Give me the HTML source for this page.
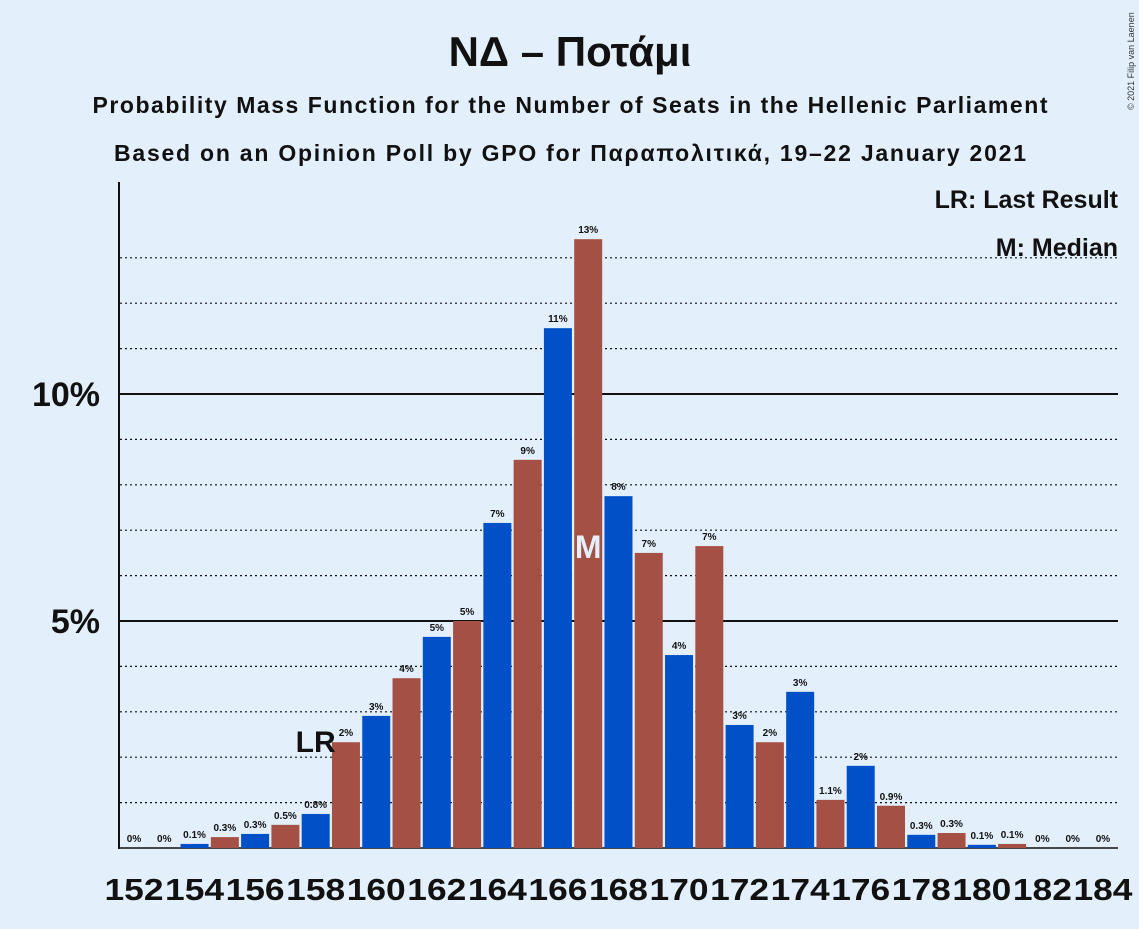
<!DOCTYPE html>
<html><head><meta charset="utf-8"><style>
body{margin:0;background:#e3f0fc;font-family:"Liberation Sans","DejaVu Sans",sans-serif;}
</style></head><body>
<svg width="1139" height="924" xmlns="http://www.w3.org/2000/svg">
<rect width="1139" height="924" fill="#e3f0fc"/>
<text x="570" y="66" text-anchor="middle" font-size="42" font-weight="bold" fill="#111">ΝΔ – Ποτάμι</text>
<text x="570" y="113" text-anchor="middle" font-size="23" font-weight="bold" fill="#111" textLength="955">Probability Mass Function for the Number of Seats in the Hellenic Parliament</text>
<text x="570" y="161" text-anchor="middle" font-size="23" font-weight="bold" fill="#111" textLength="912">Based on an Opinion Poll by GPO for Παραπολιτικά, 19–22 January 2021</text>
<text x="1134" y="110" font-size="9" fill="#333" transform="rotate(-90 1134 110)">© 2021 Filip van Laenen</text>
<g id="grid"></g>
<g id="bars"></g>
<g id="labels"></g>
<line x1="119" y1="182" x2="119" y2="849" stroke="#111" stroke-width="2"/>
<text x="1118" y="208" text-anchor="end" font-size="25" font-weight="bold" fill="#111">LR: Last Result</text>
<text x="1118" y="256" text-anchor="end" font-size="25" font-weight="bold" fill="#111">M: Median</text>
</svg>
<script>
const seats=[152,153,154,155,156,157,158,159,160,161,162,163,164,165,166,167,168,169,170,171,172,173,174,175,176,177,178,179,180,181,182,183,184];
const probs=[0,0,0.09,0.24,0.31,0.51,0.75,2.33,2.91,3.74,4.65,5.0,7.16,8.55,11.45,13.41,7.75,6.5,4.25,6.65,2.71,2.33,3.44,1.06,1.81,0.93,0.29,0.33,0.07,0.09,0,0,0];
const valueLabels=["0%","0%","0.1%","0.3%","0.3%","0.5%","0.8%","2%","3%","4%","5%","5%","7%","9%","11%","13%","8%","7%","4%","7%","3%","2%","3%","1.1%","2%","0.9%","0.3%","0.3%","0.1%","0.1%","0%","0%","0%"];
const yTicks=[5,10];
const lastResult=158, median=167;
const NS="http://www.w3.org/2000/svg";
const x=s=>134+(s-152)*30.28;
const y=v=>848-v*45.4;
function mk(tag,attrs,parent){const e=document.createElementNS(NS,tag);for(const k in attrs)e.setAttribute(k,attrs[k]);document.getElementById(parent).appendChild(e);return e;}
for(let p=1;p<=13;p++){
 const solid=yTicks.includes(p);
 const l=mk('line',{x1:120,x2:1118,y1:y(p),y2:y(p),stroke:'#111','stroke-width':solid?2:1.2,'stroke-dasharray':solid?'none':'2,3'},'grid');
 
 
}
yTicks.forEach(t=>{
 const tx=mk('text',{x:100,y:y(t)+12,'text-anchor':'end','font-size':34,'font-weight':'bold',fill:'#111'},'labels');
 tx.textContent=t+'%';
 
 
});
mk('line',{x1:120,x2:1118,y1:848,y2:848,stroke:'#111','stroke-width':1.5},'grid');
seats.forEach((s,i)=>{
 const v=probs[i];
 const r=mk('rect',{x:x(s)-14,y:y(v),width:28,height:848-y(v),fill:s%2===0?'#0050c8':'#a55045'},'bars');
 
 
 const t=mk('text',{x:x(s),y:y(v)-6,'text-anchor':'middle','font-size':10,'font-weight':'bold',fill:'#111'},'labels');
 t.textContent=valueLabels[i];
 
 
 if(s%2===0){
  const xt=mk('text',{x:x(s),y:900,'text-anchor':'middle','font-size':31,'font-weight':'bold',fill:'#111',textLength:59,lengthAdjust:'spacingAndGlyphs'},'labels');
  xt.textContent=s;
  
  
 }
});
const lr=mk('text',{x:x(lastResult),y:752,'text-anchor':'middle','font-size':30,'font-weight':'bold',fill:'#111'},'labels');
lr.textContent='LR';


const md=mk('text',{x:x(median),y:558,'text-anchor':'middle','font-size':32,'font-weight':'bold',fill:'#e3f0fc'},'labels');
md.textContent='M';


</script>
</body></html>
